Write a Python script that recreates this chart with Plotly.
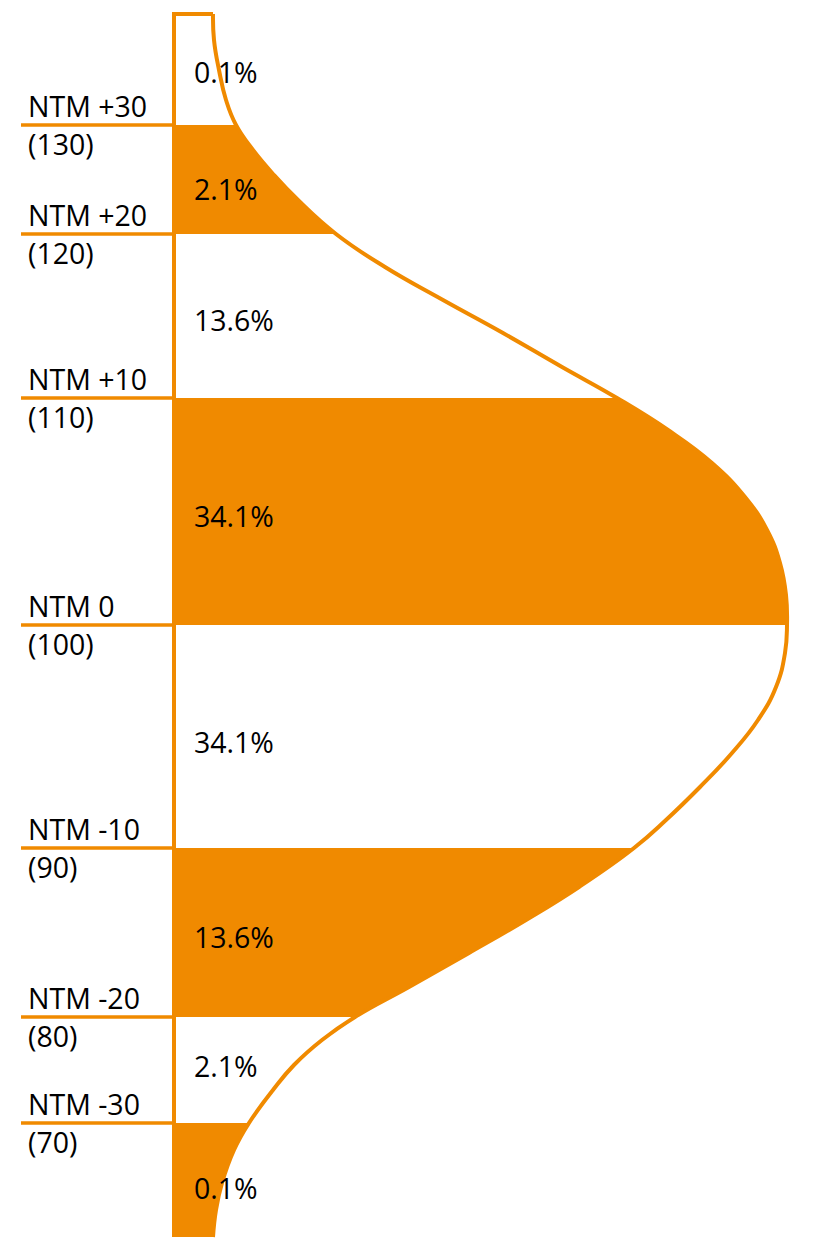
import plotly.graph_objects as go

# ---------------- data ----------------
ntm_labels = ["NTM +30", "NTM +20", "NTM +10", "NTM 0", "NTM -10", "NTM -20", "NTM -30"]
score_labels = ["(130)", "(120)", "(110)", "(100)", "(90)", "(80)", "(70)"]
band_percents = ["0.1%", "2.1%", "13.6%", "34.1%", "34.1%", "13.6%", "2.1%", "0.1%"]
band_filled = [False, True, False, True, False, True, False, True]

# vertical positions of the boundaries (drawing units, top -> bottom)
curve_top = 14
boundary_pos = [125, 234, 398, 625, 848, 1017, 1123]
curve_bottom = 1237

# bell-curve outline: position along the axis and horizontal extent
curve_pos = [14, 40, 70, 100, 125, 150, 175, 200, 234, 267, 300, 333, 367, 398,
             430, 463, 497, 530, 563, 595, 625,
             653, 687, 720, 753, 787, 820, 848, 887, 920, 953, 987, 1017,
             1040, 1065, 1090, 1123, 1150, 1183, 1210, 1237]
curve_ext = [213, 214, 219, 226, 236, 253, 274, 298, 336, 385, 443, 503, 562, 617,
             668, 712, 745, 767, 780, 786, 787,
             785, 776, 758, 732, 700, 666, 634, 579, 526, 469, 409, 355,
             322, 294, 273, 249, 234, 222, 216, 213]

# ---------------- layout constants ----------------
PAGE_W, PAGE_H = 838, 1251
OFF = 8               # page body margin
W, H = PAGE_W - 2 * OFF, PAGE_H - 2 * OFF
ORANGE = "#F08A00"
FONT = "Open Sans"
FS = 28.5
SMOOTH = 1.3
axis_x = 174          # the vertical axis line
label_x = 26          # left edge of the NTM / score labels
line_left = 21        # left end of the tick lines
pct_x = 192           # left edge of the percentage labels
pct_label_pos = [72, 189, 320, 516, 742, 937, 1066, 1188]

fig = go.Figure()

# filled bands (baseline trace followed by curve segment filled to it)
edges = [curve_top] + boundary_pos + [curve_bottom]
for i, filled in enumerate(band_filled):
    if not filled:
        continue
    top, bot = edges[i], edges[i + 1]
    seg = [(p, e) for p, e in zip(curve_pos, curve_ext) if top <= p <= bot]
    fig.add_trace(go.Scatter(x=[axis_x - 2, axis_x - 2], y=[top, bot], mode="lines",
                             line=dict(width=0, color=ORANGE), hoverinfo="skip",
                             showlegend=False))
    fig.add_trace(go.Scatter(x=[e + 1 for _, e in seg], y=[p for p, _ in seg], mode="lines",
                             line=dict(width=0, color=ORANGE, shape="spline",
                                       smoothing=SMOOTH, simplify=False),
                             fill="tonextx", fillcolor=ORANGE, hoverinfo="skip",
                             showlegend=False))

# tick lines on the left
for b in boundary_pos:
    fig.add_trace(go.Scatter(x=[line_left, axis_x], y=[b, b], mode="lines",
                             line=dict(width=3.5, color=ORANGE), hoverinfo="skip",
                             showlegend=False))

# vertical axis line with the small cap at the top
fig.add_trace(go.Scatter(x=[curve_ext[0], axis_x, axis_x], y=[curve_top, curve_top, curve_bottom],
                         mode="lines", line=dict(width=4, color=ORANGE), hoverinfo="skip",
                         showlegend=False))

# bell curve outline
fig.add_trace(go.Scatter(x=curve_ext, y=curve_pos, mode="lines",
                         line=dict(width=4, color=ORANGE, shape="spline",
                                   smoothing=SMOOTH, simplify=False),
                         hoverinfo="skip", showlegend=False))

annotations = []
txt_font = dict(family=FONT, size=FS, color="#000")
for b, t, s in zip(boundary_pos, ntm_labels, score_labels):
    annotations.append(dict(x=label_x, y=b - 19.5, text=t, xanchor="left", yanchor="middle",
                            showarrow=False, font=txt_font))
    annotations.append(dict(x=label_x, y=b + 19, text=s, xanchor="left", yanchor="middle",
                            showarrow=False, font=txt_font))
for p, t in zip(pct_label_pos, band_percents):
    annotations.append(dict(x=pct_x, y=p, text=t, xanchor="left", yanchor="middle",
                            showarrow=False, font=txt_font))

fig.update_layout(
    width=W, height=H,
    margin=dict(l=0, r=0, t=0, b=0, pad=0),
    paper_bgcolor="white", plot_bgcolor="white",
    xaxis=dict(range=[OFF, OFF + W], visible=False, fixedrange=True),
    yaxis=dict(range=[OFF + H, OFF], visible=False, fixedrange=True),
    annotations=annotations,
    showlegend=False,
)

fig.write_html("out.html")
